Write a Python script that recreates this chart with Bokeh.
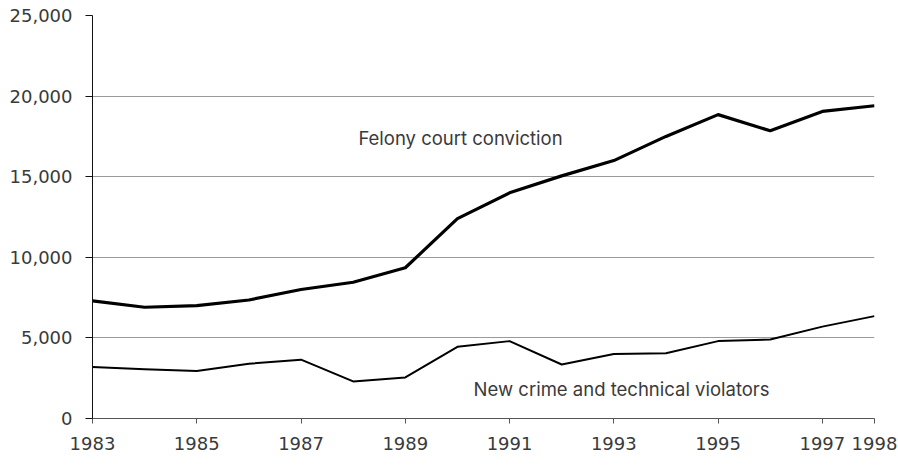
from bokeh.plotting import figure
from bokeh.models import Range1d, FixedTicker, NumeralTickFormatter, Label
from bokeh.embed import file_html
from bokeh.resources import INLINE

years = list(range(1983, 1999))
felony = [7300, 6900, 7000, 7350, 8000, 8450, 9350, 12400, 14000, 15050, 16000, 17500, 18850, 17850, 19050, 19400]
new_crime = [3200, 3050, 2950, 3400, 3650, 2300, 2550, 4450, 4800, 3350, 4000, 4050, 4800, 4900, 5700, 6350]
x_ticks = [1983, 1985, 1987, 1989, 1991, 1993, 1995, 1997, 1998]
y_ticks = [0, 5000, 10000, 15000, 20000, 25000]
label_felony = "Felony court conviction"
label_new = "New crime and technical violators"

TICK_FONT = "DejaVu Sans"
LABEL_FONT = "Inter"
TXT = "#3a3a3a"

p = figure(width=898, height=465, output_backend="svg", toolbar_location=None,
           x_range=Range1d(1983, 1998), y_range=Range1d(0, 25000),
           min_border_left=92, min_border_right=24, min_border_top=15, min_border_bottom=47)
p.outline_line_color = None
p.background_fill_color = "white"

p.xgrid.grid_line_color = None
p.ygrid.grid_line_color = "#9a9a9a"
p.ygrid.grid_line_width = 1
p.ygrid.ticker = FixedTicker(ticks=y_ticks)

p.xaxis.ticker = FixedTicker(ticks=x_ticks)
p.yaxis.ticker = FixedTicker(ticks=y_ticks)
p.yaxis.formatter = NumeralTickFormatter(format="0,0")
p.xaxis.formatter = NumeralTickFormatter(format="0")

for ax in (p.xaxis, p.yaxis):
    ax.major_label_text_font = TICK_FONT
    ax.major_label_text_font_size = "18px"
    ax.major_label_text_font_style = "normal"
    ax.major_label_text_color = TXT
    ax.minor_tick_line_color = None
    ax.major_tick_in = 0

p.xaxis.axis_line_color = "#555555"
p.xaxis.major_tick_line_color = "#555555"
p.xaxis.major_tick_out = 5
p.xaxis.major_label_standoff = 13
p.yaxis.axis_line_color = "#111111"
p.yaxis.major_tick_line_color = "#111111"
p.yaxis.major_tick_out = 7
p.yaxis.major_label_standoff = 13

p.line(years, felony, line_color="black", line_width=3.2, line_join="round")
p.line(years, new_crime, line_color="black", line_width=2, line_join="round")

p.add_layout(Label(x=1988.1, y=17370, text=label_felony, text_font=LABEL_FONT, text_font_size="18.5px",
                   text_color=TXT, text_baseline="middle", text_align="left"))
p.add_layout(Label(x=1990.31, y=1860, text=label_new, text_font=LABEL_FONT, text_font_size="18.5px",
                   text_color=TXT, text_baseline="middle", text_align="left"))

open("out.html", "w").write(file_html(p, INLINE))
